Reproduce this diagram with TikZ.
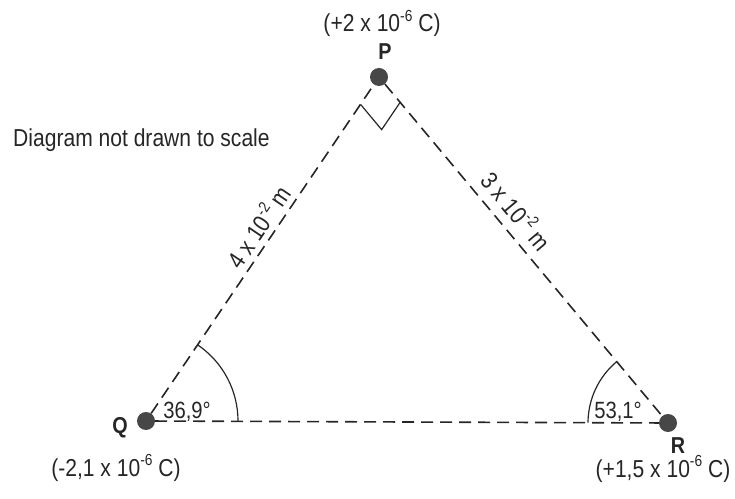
\documentclass[tikz,border=0pt]{standalone}
\usepackage{fontspec}
\setmainfont[FakeStretch=0.86]{Liberation Sans}
\usetikzlibrary{calc,angles}

\newcommand{\tenpow}[1]{10\raisebox{0.42em}{\fontsize{16}{16}\selectfont#1}}

\begin{document}
\begin{tikzpicture}[
  x=1pt, y=1pt,
  font=\fontsize{24.5}{28}\selectfont,
  charge/.style={circle, fill=black!72, inner sep=0pt, minimum size=18pt},
  bond/.style={draw=black!85, line width=1.6pt, dash pattern=on 12pt off 7pt},
  arcline/.style={draw=black!85, line width=1.2pt},
  txt/.style={inner sep=0pt, anchor=base, text=black!85},
  side/.style={sloped, above, text=black!85}
]
\useasboundingbox (0,0) rectangle (735,498);

% point charges
\node[charge] (P) at (379,421) {};
\node[charge] (Q) at (146,77)  {};
\node[charge] (R) at (668,75)  {};

% sides of the triangle
\draw[bond] (Q) -- (P) node[side, pos=0.54, inner sep=5pt] {4 x \tenpow{-2} m};
\draw[bond] (P) -- (R) node[side, pos=0.42, inner sep=9pt] {3 x \tenpow{-2} m};
\draw[bond] (Q) -- (R);

% angles
\pic[arcline, angle radius=92pt] {angle=R--Q--P};
\pic[arcline, angle radius=80pt] {angle=P--R--Q};
\coordinate (pq) at ($(P)!33pt!(Q)$);
\coordinate (pr) at ($(P)!33pt!(R)$);
\draw[arcline] (pq) -- ($(pq)+(pr)-(P)$) -- (pr);

% labels
\node[txt] (qp)   at (382,466) {(+2 x \tenpow{-6} C)};
\node[txt, font=\fontsize{23}{26}\selectfont\bfseries] (lp) at (385,438) {P};
\node[txt, font=\fontsize{23}{26}\selectfont\bfseries] (lq) at (120,65)  {Q};
\node[txt, font=\fontsize{23}{26}\selectfont\bfseries] (lr) at (678,45)  {R};
\node[txt] (qq)   at (116,22)  {(-2,1 x \tenpow{-6} C)};
\node[txt] (qr)   at (663,21)  {(+1,5 x \tenpow{-6} C)};
\node[txt, anchor=base west] (note) at (13,351) {Diagram not drawn to scale};
\node[txt, font=\fontsize{23.5}{26}\selectfont] (aq) at (187,80) {36,9°};
\node[txt, font=\fontsize{23.5}{26}\selectfont] (ar) at (618,80) {53,1°};
\end{tikzpicture}
\end{document}
